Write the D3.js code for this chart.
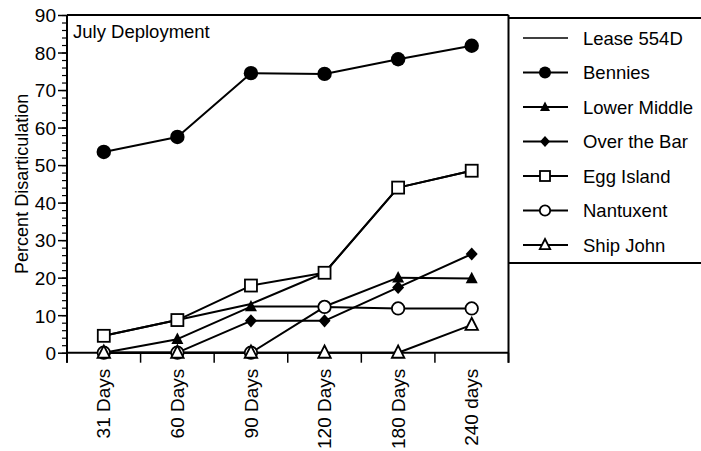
<!DOCTYPE html>
<html>
<head>
<meta charset="utf-8">
<script src="https://cdn.jsdelivr.net/npm/d3@7"></script>
<style>
  html, body { margin: 0; padding: 0; background: #fff; }
  svg { display: block; font-family: "Liberation Sans", Arial, Helvetica, sans-serif; }
</style>
</head>
<body>
<svg id="chart" width="701" height="451"></svg>
<script>
// Sampling intervals after deployment
const categories = ["31 Days", "60 Days", "90 Days", "120 Days", "180 Days", "240 days"];

// Percent disarticulation per site
const lease554D    = [4.5, 8.7, 13.0, 21.3, 44.0, 48.5];
const bennies      = [53.5, 57.5, 74.5, 74.3, 78.2, 81.8];
const lowerMiddle  = [0, 3.6, 12.3, 12.3, 20.0, 19.8];
const overTheBar   = [0, 0, 8.5, 8.5, 17.4, 26.3];
const eggIsland    = [4.5, 8.7, 17.9, 21.3, 44.0, 48.5];
const nantuxent    = [0, 0, 0, 12.2, 11.8, 11.8];
const shipJohn     = [0, 0, 0, 0, 0, 7.4];

const seriesNames = ["Lease 554D", "Bennies", "Lower Middle", "Over the Bar", "Egg Island", "Nantuxent", "Ship John"];
const yTicks = [0, 10, 20, 30, 40, 50, 60, 70, 80, 90];

const series = [
  { name: seriesNames[0], values: lease554D,   marker: "none" },
  { name: seriesNames[1], values: bennies,     marker: "circleFilled" },
  { name: seriesNames[2], values: lowerMiddle, marker: "triangleFilled" },
  { name: seriesNames[3], values: overTheBar,  marker: "diamondFilled" },
  { name: seriesNames[4], values: eggIsland,   marker: "squareOpen" },
  { name: seriesNames[5], values: nantuxent,   marker: "circleOpen" },
  { name: seriesNames[6], values: shipJohn,    marker: "triangleOpen" }
];

const svg = d3.select("#chart");
const plotLeft = 67, plotRight = 508.5, plotTop = 15, plotBottom = 352.7;

const x = d3.scaleBand().domain(categories).range([plotLeft, plotRight]).padding(0);
const xc = d => x(d) + x.bandwidth() / 2;
const y = d3.scaleLinear().domain([0, 90]).range([plotBottom, plotTop]);

// Frame: top and right edges of the plot
svg.append("line").attr("x1", plotLeft).attr("x2", plotRight).attr("y1", plotTop).attr("y2", plotTop)
  .attr("stroke", "#000").attr("stroke-width", 2);
svg.append("line").attr("x1", plotRight).attr("x2", plotRight).attr("y1", plotTop).attr("y2", plotBottom + 10)
  .attr("stroke", "#000").attr("stroke-width", 2);

// Y axis with minor ticks every 2 units
const yMinor = d3.range(0, 91, 2);
const yMinorAxis = svg.append("g").attr("transform", `translate(${plotLeft},0)`)
  .call(d3.axisLeft(y).tickValues(yMinor).tickSize(5).tickFormat(""));
yMinorAxis.select(".domain").remove();
yMinorAxis.selectAll("line").attr("stroke", "#000").attr("stroke-width", 1.2);

const yAxis = svg.append("g").attr("transform", `translate(${plotLeft},0)`)
  .call(d3.axisLeft(y).tickValues(yTicks).tickSize(9).tickPadding(2).tickSizeOuter(0));
yAxis.select(".domain").attr("stroke", "#000").attr("stroke-width", 2)
  .attr("d", `M0,${plotTop}V${plotBottom + 10}`);
yAxis.selectAll(".tick line").attr("stroke", "#000").attr("stroke-width", 1.5);
yAxis.selectAll(".tick text").attr("fill", "#000")
  .style("font-size", "19px").attr("dy", "0.36em");

// X axis baseline and boundary ticks between intervals
svg.append("line").attr("x1", plotLeft).attr("x2", plotRight).attr("y1", plotBottom).attr("y2", plotBottom)
  .attr("stroke", "#000").attr("stroke-width", 2);
const boundaries = categories.map(c => x(c)).concat([x.range()[1]]);
svg.append("g").selectAll("line").data(boundaries).join("line")
  .attr("x1", d => d).attr("x2", d => d)
  .attr("y1", plotBottom).attr("y2", plotBottom + 10)
  .attr("stroke", "#000").attr("stroke-width", 1.5);

// Rotated category labels
svg.append("g").selectAll("text").data(categories).join("text")
  .attr("transform", d => `translate(${xc(d)},${plotBottom + 16}) rotate(-90)`)
  .attr("text-anchor", "end").attr("dy", "0.35em")
  .style("font-size", "19px").attr("fill", "#000")
  .text(d => d);

// Axis title
svg.append("text")
  .attr("transform", `translate(28,${(plotTop + plotBottom) / 2}) rotate(-90)`)
  .attr("text-anchor", "middle")
  .style("font-size", "18px").attr("fill", "#000")
  .text("Percent Disarticulation");

// Panel title
svg.append("text").attr("x", 73).attr("y", 38)
  .style("font-size", "18.5px").attr("fill", "#000")
  .text("July Deployment");

// Marker drawing
function drawMarker(g, type, size) {
  const s = size;
  if (type === "circleFilled") {
    g.append("circle").attr("r", s * 0.6).attr("fill", "#000");
  } else if (type === "circleOpen") {
    g.append("circle").attr("r", s * 0.52).attr("fill", "#fff").attr("stroke", "#000").attr("stroke-width", 1.8);
  } else if (type === "squareOpen") {
    g.append("rect").attr("x", -s * 0.5).attr("y", -s * 0.5).attr("width", s).attr("height", s)
      .attr("fill", "#fff").attr("stroke", "#000").attr("stroke-width", 1.8);
  } else if (type === "triangleFilled") {
    g.append("path").attr("d", `M0,${-s * 0.55}L${s * 0.5},${s * 0.4}L${-s * 0.5},${s * 0.4}Z`).attr("fill", "#000");
  } else if (type === "triangleOpen") {
    g.append("path").attr("d", `M0,${-s * 0.6}L${s * 0.52},${s * 0.42}L${-s * 0.52},${s * 0.42}Z`)
      .attr("fill", "#fff").attr("stroke", "#000").attr("stroke-width", 1.8);
  } else if (type === "diamondFilled") {
    g.append("path").attr("d", `M0,${-s * 0.55}L${s * 0.5},0L0,${s * 0.55}L${-s * 0.5},0Z`).attr("fill", "#000");
  }
}

const line = d3.line().x((d, i) => xc(categories[i])).y(d => y(d));

// Lines first so markers sit on top
series.forEach(s => {
  svg.append("path").datum(s.values)
    .attr("d", line).attr("fill", "none")
    .attr("stroke", "#000").attr("stroke-width", 2).attr("stroke-linejoin", "round");
});
series.forEach(s => {
  if (s.marker === "none") return;
  s.values.forEach((v, i) => {
    const g = svg.append("g").attr("transform", `translate(${xc(categories[i])},${y(v)})`);
    drawMarker(g, s.marker, 12);
  });
});

// Legend box
const legLeft = plotRight, legTop = 18, legBottom = 263;
svg.append("line").attr("x1", legLeft).attr("x2", 701).attr("y1", legTop).attr("y2", legTop)
  .attr("stroke", "#000").attr("stroke-width", 2);
svg.append("line").attr("x1", legLeft).attr("x2", 701).attr("y1", legBottom).attr("y2", legBottom)
  .attr("stroke", "#000").attr("stroke-width", 2);

const rowY = d3.scalePoint().domain(seriesNames).range([38, 245]);
const leg = svg.append("g").selectAll("g").data(series).join("g")
  .attr("transform", d => `translate(0,${rowY(d.name)})`);
leg.append("line").attr("x1", 523).attr("x2", 568).attr("y1", 0).attr("y2", 0)
  .attr("stroke", "#000").attr("stroke-width", d => d.marker === "none" ? 1.5 : 2);
leg.each(function(d) {
  if (d.marker === "none") return;
  const g = d3.select(this).append("g").attr("transform", "translate(545,0)");
  drawMarker(g, d.marker, 10);
});
leg.append("text").attr("x", 583).attr("dy", "0.36em")
  .style("font-size", "18.5px").attr("fill", "#000")
  .text(d => d.name);
</script>
</body>
</html>
